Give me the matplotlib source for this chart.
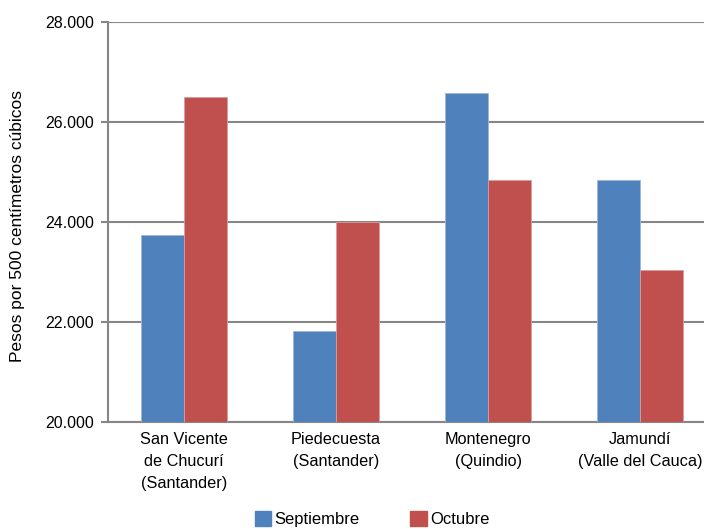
import numpy as np
import matplotlib
matplotlib.use('Agg')
import matplotlib.pyplot as plt
from matplotlib import patches

plt.rcParams['font.family'] = ['Liberation Sans', 'DejaVu Sans']

categories = ['San Vicente\nde Chucurí\n(Santander)', 'Piedecuesta\n(Santander)',
              'Montenegro\n(Quindio)', 'Jamundí\n(Valle del Cauca)']
septiembre = [23740, 21820, 26580, 24840]
octubre = [26500, 24000, 24840, 23040]
yticks = [20000, 22000, 24000, 26000, 28000]
ytick_labels = ['20.000', '22.000', '24.000', '26.000', '28.000']

blue = '#4F81BD'
red = '#C0504D'
grey = '#868686'

fig = plt.figure(figsize=(7.04, 5.29), dpi=100)
# plot area runs past the right edge of the picture, like the reference
ax = fig.add_axes([108/704, 1-422/529, 608/704, 400/529])

x = np.arange(len(categories))
w = 0.283
ax.bar(x - w/2, septiembre, w, color=blue, edgecolor='#9DB7DA', linewidth=0.6, zorder=3, label='Septiembre')
ax.bar(x + w/2, octubre, w, color=red, edgecolor='#DC9C9A', linewidth=0.6, zorder=3, label='Octubre')

ax.set_xlim(-0.5, len(categories) - 0.5)
ax.set_ylim(20000, 28000)
ax.set_yticks(yticks)
ax.set_yticklabels(ytick_labels, fontsize=11.5)
ax.set_xticks(x)
ax.set_xticklabels(categories, fontsize=11.7, linespacing=1.58)
ax.tick_params(axis='x', length=0, pad=7)
ax.tick_params(axis='y', length=5, width=1.5, color=grey, pad=5)
ax.yaxis.grid(True, color=grey, linewidth=1.5, zorder=0)

for side in ['top', 'right']:
    ax.spines[side].set_visible(False)
for side in ['left', 'bottom']:
    ax.spines[side].set_color(grey)
    ax.spines[side].set_linewidth(1.5)

fig.text(18/704, 1-226/529, 'Pesos por 500 centímetros cúbicos', rotation=90,
         ha='center', va='center', fontsize=12.5)

# legend sits right at the bottom edge, kept just inside the picture
handles = [patches.Patch(color=blue), patches.Patch(color=red)]
fig.legend(handles, ['Septiembre', 'Octubre'], loc='center', ncol=2,
           bbox_to_anchor=(372/704, 1-519/529), frameon=False, fontsize=12,
           handlelength=1.0, handleheight=1.0, handletextpad=0.2, columnspacing=3.0,
           borderpad=0.0)

fig.savefig('out.png', dpi=100)
